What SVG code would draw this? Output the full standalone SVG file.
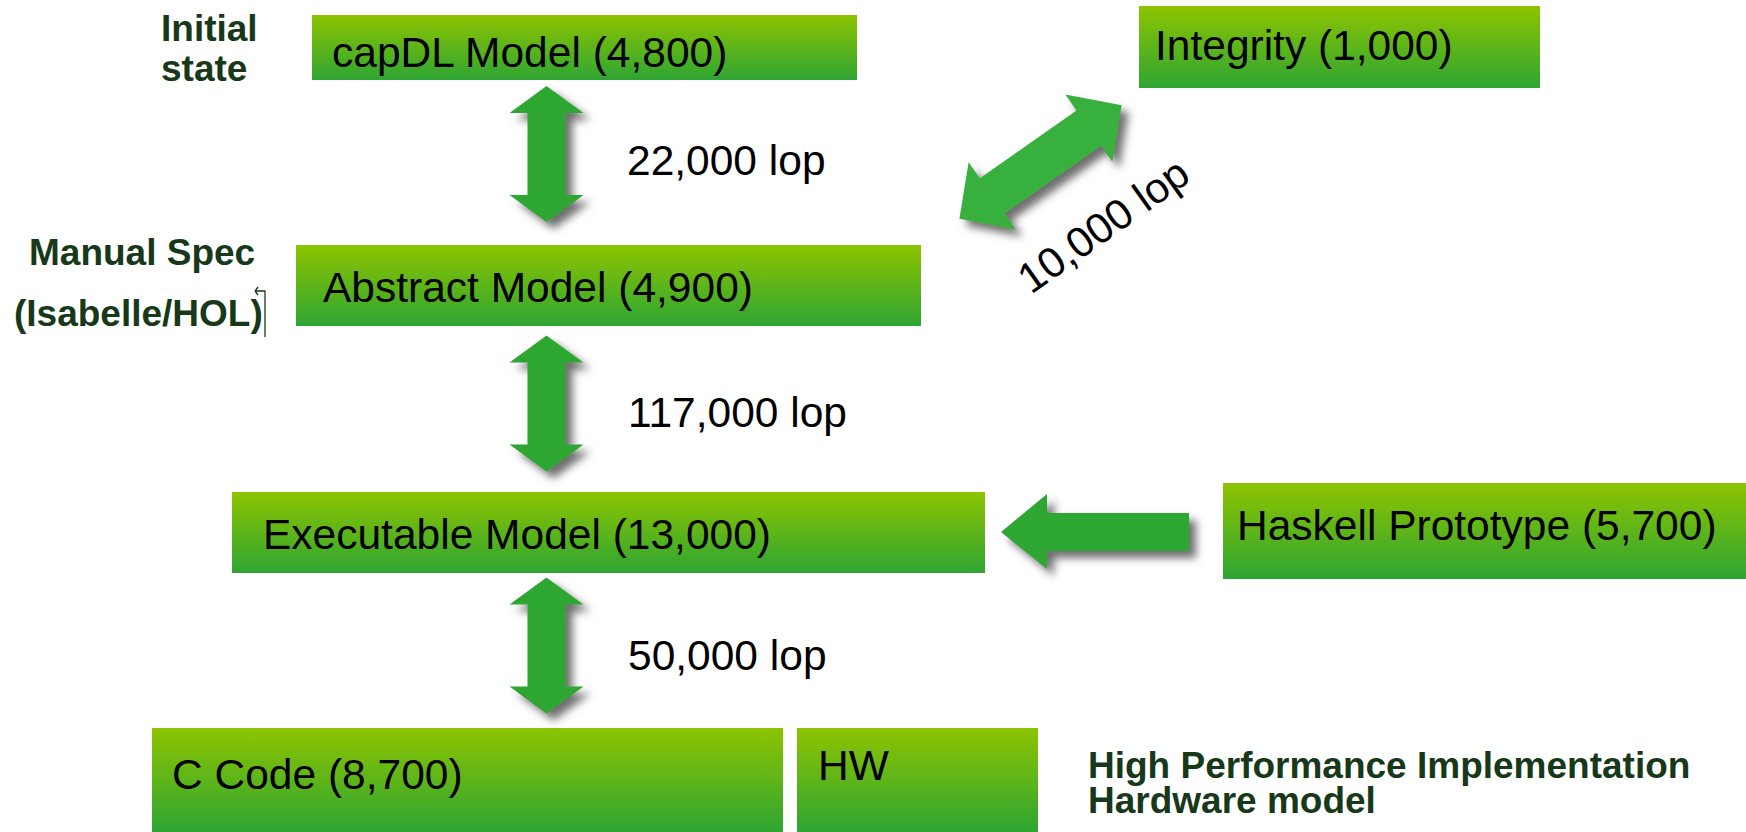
<svg xmlns="http://www.w3.org/2000/svg" width="1746" height="832" viewBox="0 0 1746 832">
  <defs>
    <linearGradient id="boxg" x1="0" y1="0" x2="0" y2="1">
      <stop offset="0" stop-color="#8dc400"/>
      <stop offset="1" stop-color="#2ea533"/>
    </linearGradient>
    <filter id="shadow" x="-30%" y="-30%" width="160%" height="160%">
      <feGaussianBlur in="SourceAlpha" stdDeviation="4"/>
      <feOffset dx="7" dy="7" result="b"/>
      <feFlood flood-color="#555555" flood-opacity="0.85"/>
      <feComposite in2="b" operator="in"/>
      <feMerge>
        <feMergeNode/>
        <feMergeNode in="SourceGraphic"/>
      </feMerge>
    </filter>
    <path id="varrow" d="M0,0 L37,27 L19,27 L19,109 L37,109 L0,136 L-37,109 L-19,109 L-19,27 L-37,27 Z"/>
  </defs>
  <style>
    .box { fill: url(#boxg); }
    .lbl { font-family: "Liberation Sans", Arial, sans-serif; font-size: 42.5px; fill: #000000; }
    .side { font-family: "Liberation Sans", Arial, sans-serif; font-size: 37px; font-weight: bold; fill: #17391a; }
    .arr { fill: #2ea633; }
    .arr2 { fill: #38b03c; }
  </style>
  <rect width="1746" height="832" fill="#ffffff"/>

  <g id="label-initial-state">
    <text class="side" x="161" y="41">Initial</text>
    <text class="side" x="161" y="81">state</text>
  </g>
  <g id="label-manual-spec">
    <text class="side" x="29" y="265">Manual Spec</text>
    <text class="side" x="14" y="326">(Isabelle/HOL)</text>
    <path d="M265,337 L265,291 L255,291 M255,291 L258,287 M255,291 L258,295" fill="none" stroke="#17391a" stroke-width="1.3"/>
  </g>
  <g id="label-high-perf">
    <text class="side" x="1088" y="778">High Performance Implementation</text>
    <text class="side" x="1088" y="813">Hardware model</text>
  </g>

  <g id="node-capdl">
    <rect class="box" x="312" y="15" width="545" height="65"/>
    <text class="lbl" x="332" y="67">capDL Model (4,800)</text>
  </g>
  <g id="node-integrity">
    <rect class="box" x="1139" y="6" width="401" height="82"/>
    <text class="lbl" x="1155" y="60">Integrity (1,000)</text>
  </g>
  <g id="node-abstract">
    <rect class="box" x="296" y="245" width="625" height="81"/>
    <text class="lbl" x="323" y="302">Abstract Model (4,900)</text>
  </g>
  <g id="node-executable">
    <rect class="box" x="232" y="492" width="753" height="81"/>
    <text class="lbl" x="263" y="549">Executable Model (13,000)</text>
  </g>
  <g id="node-haskell">
    <rect class="box" x="1223" y="483" width="523" height="96"/>
    <text class="lbl" x="1237" y="540">Haskell Prototype (5,700)</text>
  </g>
  <g id="node-ccode">
    <rect class="box" x="152" y="728" width="631" height="104"/>
    <text class="lbl" x="172" y="789">C Code (8,700)</text>
  </g>
  <g id="node-hw">
    <rect class="box" x="797" y="728" width="241" height="104"/>
    <text class="lbl" x="818" y="780">HW</text>
  </g>

  <g id="connectors">
    <g filter="url(#shadow)">
      <use href="#varrow" class="arr" x="546.5" y="86"/>
    </g>
    <text class="lbl" x="627" y="175">22,000 lop</text>
    <g filter="url(#shadow)">
      <use href="#varrow" class="arr" x="546.5" y="335.5"/>
    </g>
    <text class="lbl" x="628" y="427">117,000 lop</text>
    <g filter="url(#shadow)">
      <use href="#varrow" class="arr" x="546.5" y="577.5"/>
    </g>
    <text class="lbl" x="628" y="670">50,000 lop</text>
    <g filter="url(#shadow)">
      <path class="arr" d="M1001,532 L1047,494 L1047,513 L1189,513 L1189,551 L1047,551 L1047,569 Z"/>
    </g>
    <g filter="url(#shadow)">
      <path class="arr2" transform="translate(1040.5,162) rotate(-35)" d="M99,0 L59,-41 L59,-21.5 L-59,-21.5 L-59,-41 L-99,0 L-59,41 L-59,21.5 L59,21.5 L59,41 Z"/>
    </g>
    <text class="lbl" transform="translate(1031,295) rotate(-35.5)">10,000 lop</text>
  </g>
</svg>
